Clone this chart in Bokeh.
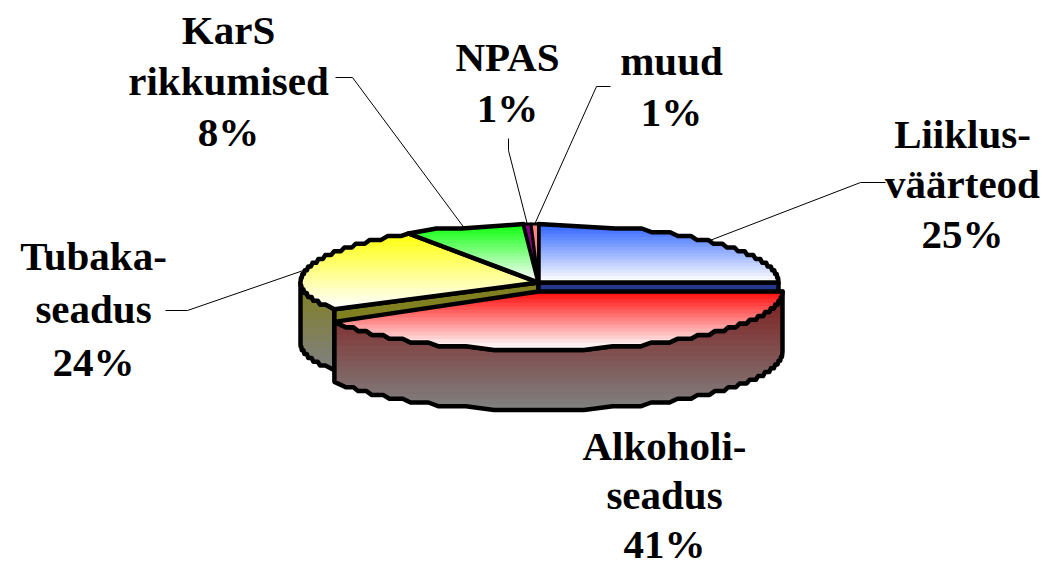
import math
from bokeh.plotting import figure
from bokeh.models import Range1d
from bokeh.core.properties import value
from bokeh.embed import file_html
from bokeh.resources import INLINE

# ---- data ----
names = [["Liiklus-", "väärteod"], ["Alkoholi-", "seadus"], ["Tubaka-", "seadus"],
         ["KarS", "rikkumised"], ["NPAS"], ["muud"]]
shares = [25.0, 41.4, 24.4, 8.2, 0.5, 0.5]
pct_labels = ["25%", "41%", "24%", "8%", "1%", "1%"]
top_colors = ["#3366ff", "#ff1010", "#ffff10", "#10ff10", "#800080", "#ff8080"]

# ---- layout ----
W, H = 1042, 563
OX, OY = 0, 0
line_steps = [50, 49, 53, 51, 51, 51]
FONT = "41px"
BANDS = 18
DEPTH = 61
back = dict(cx=538, cy=282, rl=238, rr=240, rt=58.5, rb=52)
front = dict(cx=538, cy=291, rl=238, rr=244, rt=59, rb=59)
label_pos = [(962, 133), (664, 445), (93, 255), (228, 29), (507, 56), (671, 60)]
elbows = [((885, 182), (860, 182)), None, ((165, 310), (187, 310)),
          ((335, 77), (352, 77)), ((508, 138), (508, 150)), ((610, 86), (596, 86))]


def rim(e, t):
    a = math.radians(t)
    s, c = math.sin(a), math.cos(a)
    return (e["cx"] + (e["rr"] if s >= 0 else e["rl"]) * s,
            e["cy"] - (e["rt"] if c >= 0 else e["rb"]) * c)


def arc(e, t0, t1, step=3.8):
    """Arc with the coarse, stepped look of the source rendering."""
    n = max(2, int(abs(t1 - t0) * 4))
    pts = [rim(e, t0 + (t1 - t0) * i / n) for i in range(n + 1)]
    runs = []
    for x, y in pts:
        k = round(y / step)
        if runs and runs[-1][0] == k:
            runs[-1][1].append((x, y))
        else:
            runs.append((k, [(x, y)]))
    out = [pts[0]]
    for k, r in runs[1:-1]:
        yy = k * step
        out.append((r[len(r) // 6][0], yy))
        out.append((r[5 * len(r) // 6][0], yy))
    out.append(pts[-1])
    return out


def clip_below(poly, y0):
    res = []
    for i in range(len(poly)):
        a, b = poly[i], poly[(i + 1) % len(poly)]
        ia, ib = a[1] >= y0, b[1] >= y0
        if ia:
            res.append(a)
        if ia != ib:
            f = (y0 - a[1]) / (b[1] - a[1])
            res.append((a[0] + (b[0] - a[0]) * f, y0))
    return res


def mix(c0, c1, f):
    a = [int(c0[i:i + 2], 16) for i in (1, 3, 5)]
    b = [int(c1[i:i + 2], 16) for i in (1, 3, 5)]
    return "#%02x%02x%02x" % tuple(round(u + (v - u) * f) for u, v in zip(a, b))


p = figure(width=W, height=H, output_backend="svg", toolbar_location=None,
           x_range=Range1d(OX, OX + W), y_range=Range1d(OY + H, OY),
           min_border=0, outline_line_color=None, background_fill_color="white",
           styles={"position": "absolute", "left": "0", "top": "0"})
p.axis.visible = False
p.grid.visible = False


def shade(poly, c0, c1, bands=BANDS):
    ys = [q[1] for q in poly]
    lo, hi = min(ys), max(ys)
    xs_out, ys_out, cols = [], [], []
    for i in range(bands):
        y0 = lo + (hi - lo) * i / bands
        part = poly if i == 0 else clip_below(poly, y0)
        if len(part) < 3:
            continue
        xs_out.append([q[0] for q in part])
        ys_out.append([q[1] for q in part])
        cols.append(mix(c0, c1, i / (bands - 1)))
    p.patches(xs_out, ys_out, fill_color=cols, line_color=None)


def outline(poly, w=4.5):
    p.patch([q[0] for q in poly], [q[1] for q in poly], fill_color=None,
            line_color="black", line_width=w, line_join="round")


# slice angles, clockwise from the top; first slice ends at the 3 o'clock point
starts = []
t = 0.0
for s in shares:
    starts.append(t)
    t += s * 3.6
ends = [a + s * 3.6 for a, s in zip(starts, shares)]
mids = [(a + b) / 2 for a, b in zip(starts, ends)]

# leader lines
for i, el in enumerate(elbows):
    if el is None:
        continue
    e = front if i == 1 else back
    ax, ay = rim(e, mids[i])
    p.line([el[0][0], el[1][0], ax], [el[0][1], el[1][1], ay], line_color="black", line_width=1)

# back group: yellow outer wall and visible cut faces
c = (back["cx"], back["cy"])
ytop = arc(back, ends[1], 270)
ywall = ytop + [(x, y + DEPTH) for x, y in reversed(ytop)]
shade(ywall, "#808020", "#808080", 12)
outline(ywall)

corner = rim(back, ends[1])
cut = [c, corner, (corner[0], corner[1] + DEPTH), (c[0], c[1] + DEPTH)]
p.patch([q[0] for q in cut], [q[1] for q in cut], fill_color="#808020", line_color="black", line_width=4.5)
rp = rim(back, 90)
cut = [c, rp, (rp[0], rp[1] + DEPTH), (c[0], c[1] + DEPTH)]
p.patch([q[0] for q in cut], [q[1] for q in cut], fill_color="#26388c", line_color="black", line_width=4.5)

# back group: top faces
for i in (0, 2, 3, 4, 5):
    poly = [c] + arc(back, starts[i], ends[i])
    shade(poly, top_colors[i], "#ffffff" if i < 4 else top_colors[i])
    outline(poly, 4.5 if i < 4 else 3)

# front slice
ftop = arc(front, starts[1], ends[1])
fwall = ftop + [(x, y + DEPTH - 1) for x, y in reversed(ftop)]
shade(fwall, "#801c1c", "#808080", 22)
outline(fwall)
poly = [(front["cx"], front["cy"])] + ftop
shade(poly, top_colors[1], "#ffffff", 16)
outline(poly)

# labels
for i, (x, y) in enumerate(label_pos):
    lines = names[i] + [pct_labels[i]]
    p.text([x] * len(lines), [y + line_steps[i] * k for k in range(len(lines))], text=lines,
           text_font=value("Liberation Serif"), text_font_style="bold", text_font_size=FONT,
           text_align="center", text_baseline="middle", text_color="black")

open("out.html", "w").write(file_html(p, INLINE))
